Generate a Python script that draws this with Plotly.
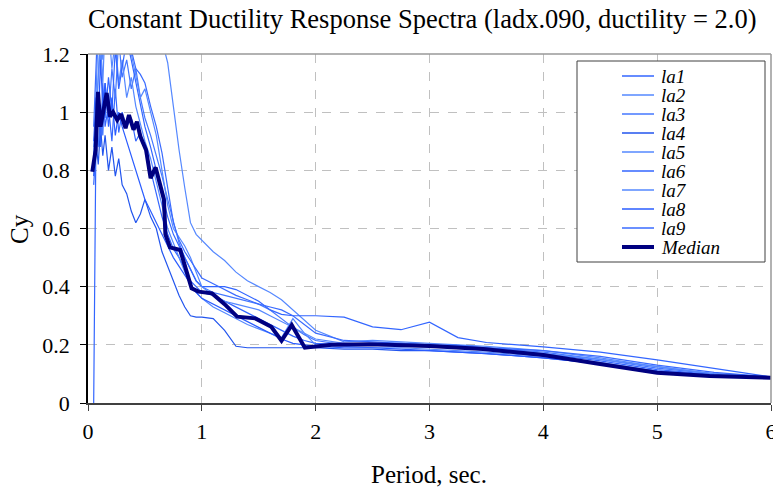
import plotly.graph_objects as go

# ---------------- data ----------------
PERIOD = [0.05, 0.07, 0.09, 0.11, 0.13, 0.15, 0.18, 0.21, 0.24, 0.27,
          0.30, 0.34, 0.38, 0.42, 0.46, 0.50, 0.55, 0.60, 0.65, 0.70,
          0.75, 0.80, 0.85, 0.90, 0.95, 1.00, 1.10, 1.20, 1.30, 1.40,
          1.50, 1.60, 1.70, 1.80, 1.90, 2.00, 2.25, 2.50, 2.75, 3.00,
          3.25, 3.50, 4.00, 4.50, 5.00, 5.50, 6.00]

la1 = [0.00, 0.92, 1.05, 0.88, 1.10, 0.95, 1.02, 0.90, 1.08, 0.93,
       1.00, 0.95, 0.98, 0.90, 0.93, 0.88, 0.80, 0.72, 0.64, 0.58,
       0.53, 0.50, 0.46, 0.42, 0.40, 0.38, 0.37, 0.35, 0.33, 0.31,
       0.29, 0.27, 0.25, 0.23, 0.215, 0.205, 0.20, 0.205, 0.205, 0.20,
       0.195, 0.19, 0.17, 0.145, 0.115, 0.098, 0.088]
la2 = [0.85, 1.00, 1.15, 1.25, 1.10, 1.30, 1.22, 1.35, 1.28, 1.40,
       1.32, 1.38, 1.45, 1.40, 1.42, 1.45, 1.40, 1.32, 1.25, 1.17,
       1.02, 0.87, 0.74, 0.62, 0.58, 0.56, 0.52, 0.49, 0.45, 0.42,
       0.40, 0.38, 0.355, 0.32, 0.285, 0.25, 0.21, 0.215, 0.21, 0.205,
       0.20, 0.195, 0.18, 0.155, 0.125, 0.10, 0.09]
la3 = [0.80, 0.95, 0.88, 1.02, 0.92, 1.10, 0.98, 1.15, 1.05, 1.25,
       1.12, 1.18, 1.08, 1.15, 1.05, 0.98, 0.92, 0.85, 0.78, 0.70,
       0.62, 0.55, 0.50, 0.46, 0.42, 0.40, 0.38, 0.37, 0.36, 0.35,
       0.34, 0.32, 0.29, 0.26, 0.235, 0.215, 0.20, 0.20, 0.205, 0.20,
       0.195, 0.19, 0.175, 0.15, 0.12, 0.10, 0.09]
la4 = [0.78, 0.90, 0.82, 0.95, 0.85, 0.92, 0.80, 0.88, 0.78, 0.84,
       0.75, 0.72, 0.66, 0.62, 0.65, 0.70, 0.64, 0.60, 0.52, 0.47,
       0.42, 0.37, 0.33, 0.30, 0.295, 0.295, 0.29, 0.25, 0.195, 0.19,
       0.19, 0.19, 0.19, 0.19, 0.19, 0.19, 0.185, 0.185, 0.18, 0.18,
       0.175, 0.17, 0.155, 0.135, 0.11, 0.095, 0.085]
la5 = [0.82, 1.10, 1.28, 1.15, 1.35, 1.20, 1.30, 1.15, 1.25, 1.10,
       1.18, 1.05, 1.12, 1.02, 0.96, 0.90, 0.84, 0.76, 0.68, 0.60,
       0.55, 0.50, 0.45, 0.41, 0.38, 0.36, 0.33, 0.31, 0.29, 0.27,
       0.255, 0.24, 0.225, 0.29, 0.24, 0.20, 0.195, 0.19, 0.19, 0.185,
       0.18, 0.175, 0.16, 0.14, 0.11, 0.095, 0.085]
la6 = [0.75, 0.88, 1.00, 0.92, 1.05, 0.98, 1.12, 1.00, 1.22, 1.08,
       1.15, 1.25, 1.18, 1.10, 1.02, 0.95, 0.88, 0.80, 0.72, 0.64,
       0.58, 0.54, 0.50, 0.46, 0.42, 0.40, 0.40, 0.40, 0.39, 0.37,
       0.35, 0.32, 0.305, 0.30, 0.30, 0.30, 0.295, 0.262, 0.252, 0.278,
       0.225, 0.208, 0.193, 0.175, 0.148, 0.118, 0.09]
la7 = [0.88, 0.98, 1.12, 1.30, 1.18, 1.40, 1.25, 1.32, 1.20, 1.28,
       1.22, 1.30, 1.20, 1.12, 1.05, 1.08, 1.00, 0.92, 0.80, 0.68,
       0.60, 0.57, 0.54, 0.50, 0.45, 0.40, 0.37, 0.35, 0.34, 0.33,
       0.32, 0.30, 0.28, 0.26, 0.24, 0.22, 0.205, 0.20, 0.20, 0.195,
       0.19, 0.185, 0.17, 0.15, 0.125, 0.10, 0.088]
la8 = [0.90, 1.05, 0.95, 1.18, 1.02, 1.10, 0.95, 1.05, 0.92, 1.00,
       0.95, 0.90, 0.85, 0.80, 0.75, 0.70, 0.66, 0.62, 0.58, 0.54,
       0.50, 0.47, 0.44, 0.41, 0.38, 0.36, 0.34, 0.32, 0.30, 0.28,
       0.26, 0.24, 0.22, 0.205, 0.20, 0.195, 0.19, 0.19, 0.185, 0.18,
       0.175, 0.17, 0.155, 0.135, 0.11, 0.095, 0.085]
la9 = [0.95, 1.20, 1.35, 1.25, 1.45, 1.30, 1.50, 1.40, 1.45, 1.30,
       1.38, 1.28, 1.22, 1.15, 1.13, 1.10, 1.02, 0.95, 0.86, 0.74,
       0.62, 0.56, 0.52, 0.49, 0.46, 0.43, 0.41, 0.39, 0.37, 0.355,
       0.34, 0.33, 0.32, 0.30, 0.27, 0.24, 0.215, 0.21, 0.205, 0.20,
       0.198, 0.19, 0.18, 0.16, 0.13, 0.105, 0.09]

MEDIAN_PERIOD = [0.038, 0.067, 0.088, 0.11, 0.164, 0.193, 0.22, 0.257, 0.29, 0.33,
                 0.36, 0.40, 0.43, 0.46, 0.51, 0.55, 0.594, 0.63, 0.667, 0.68,
                 0.72, 0.81, 0.866, 0.91, 0.97, 1.09, 1.2, 1.31, 1.47, 1.61,
                 1.70, 1.79, 1.905, 2.14, 2.47, 3.0, 3.47, 4.0, 4.47, 5.0,
                 5.46, 6.0]
MEDIAN = [0.795, 0.87, 1.07, 0.95, 1.066, 0.985, 1.0, 0.973, 0.993, 0.945,
          0.99, 0.94, 0.967, 0.916, 0.87, 0.773, 0.81, 0.761, 0.70, 0.58,
          0.535, 0.526, 0.447, 0.394, 0.383, 0.377, 0.34, 0.297, 0.291, 0.262,
          0.214, 0.268, 0.19, 0.2, 0.202, 0.196, 0.186, 0.165, 0.136, 0.104,
          0.093, 0.087]

RECORD_NAMES = ["la1", "la2", "la3", "la4", "la5", "la6", "la7", "la8", "la9"]
RECORDS = [la1, la2, la3, la4, la5, la6, la7, la8, la9]
MEDIAN_NAME = "Median"

X_TICKS = [0, 1, 2, 3, 4, 5, 6]
Y_TICKS = [0, 0.2, 0.4, 0.6, 0.8, 1.0, 1.2]
Y_TICK_LABELS = ["0", "0.2", "0.4", "0.6", "0.8", "1", "1.2"]

TITLE = "Constant Ductility Response Spectra (ladx.090, ductility = 2.0)"
X_TITLE = "Period, sec."
Y_TITLE = "Cy"

# ---------------- style ----------------
REC_COLORS = ["#3366FF", "#5588FF", "#4477FF", "#2255EE", "#5588FF",
              "#3366FF", "#5588FF", "#2A5CFF", "#3A6BFF"]
MED_COLOR = "#000080"
FONT = "Liberation Serif"

for r in RECORDS:
    assert len(r) == len(PERIOD)
assert len(MEDIAN) == len(MEDIAN_PERIOD)

fig = go.Figure()
for name, vals, col in zip(RECORD_NAMES, RECORDS, REC_COLORS):
    fig.add_trace(go.Scatter(x=PERIOD, y=vals, mode="lines", name=name,
                             line=dict(color=col, width=1.2), showlegend=False))
fig.add_trace(go.Scatter(x=MEDIAN_PERIOD, y=MEDIAN, mode="lines", name=MEDIAN_NAME,
                         line=dict(color=MED_COLOR, width=4), showlegend=False))

W, H = 773, 488
L, R, T, B = 88, 2, 54, 85
pw, ph = W - L - R, H - T - B


def px2paper_x(px):
    return (px - L) / pw


def px2paper_y(py):
    return (H - B - py) / ph


fig.update_layout(
    width=W, height=H,
    margin=dict(l=L, r=R, t=T, b=B, autoexpand=False),
    paper_bgcolor="white", plot_bgcolor="white",
    font=dict(family=FONT, color="black", size=22),
    title=dict(text=TITLE, x=px2paper_x(88), xref="paper", xanchor="left",
               y=1 - 19 / H, yanchor="middle",
               font=dict(family=FONT, size=26.5, color="black")),
    showlegend=False,
)

fig.update_xaxes(
    range=[0, 6], tickvals=X_TICKS, ticktext=[str(v) for v in X_TICKS],
    automargin=False,
    showgrid=True, gridcolor="#c0c0c0", griddash="dash", gridwidth=1,
    showline=True, linecolor="#404040", linewidth=2,
    ticks="outside", ticklen=6, tickcolor="#404040", tickwidth=1,
    ticklabelstandoff=2, ticklabeloverflow="allow", zeroline=False,
    tickfont=dict(family=FONT, size=22, color="black"),
)
fig.update_yaxes(
    range=[0, 1.2], tickvals=Y_TICKS, ticktext=Y_TICK_LABELS,
    automargin=False,
    showgrid=True, gridcolor="#c0c0c0", griddash="dash", gridwidth=1,
    showline=True, linecolor="black", linewidth=1.5,
    ticks="outside", ticklen=6, tickcolor="black", tickwidth=1,
    ticklabelstandoff=6, zeroline=False,
    tickfont=dict(family=FONT, size=22, color="black"),
)

# top and right borders of the plot area (gray)
fig.add_shape(type="line", xref="paper", yref="paper", x0=0, x1=1, y0=1, y1=1,
              line=dict(color="#999999", width=1.5))
fig.add_shape(type="line", xref="paper", yref="paper", x0=1, x1=1, y0=0, y1=1,
              line=dict(color="#999999", width=1.5))

# axis titles
fig.add_annotation(text=Y_TITLE, xref="paper", yref="paper",
                   x=px2paper_x(19), y=px2paper_y(229), textangle=-90,
                   showarrow=False, xanchor="center", yanchor="middle",
                   font=dict(family=FONT, size=25, color="black"))
fig.add_annotation(text=X_TITLE, xref="paper", yref="paper",
                   x=px2paper_x(429), y=px2paper_y(474),
                   showarrow=False, xanchor="center", yanchor="middle",
                   font=dict(family=FONT, size=25, color="black"))

# legend box (drawn manually to match compact row spacing)
fig.add_shape(type="rect", xref="paper", yref="paper",
              x0=px2paper_x(577), x1=px2paper_x(765),
              y0=px2paper_y(262), y1=px2paper_y(61),
              line=dict(color="#404040", width=1), fillcolor="white", layer="above")
names = RECORD_NAMES + [MEDIAN_NAME]
cols = REC_COLORS + [MED_COLOR]
widths = [1.5] * len(RECORD_NAMES) + [4]
for i, (nm, c, w) in enumerate(zip(names, cols, widths)):
    yy = 76 + i * 19.0
    fig.add_shape(type="line", xref="paper", yref="paper",
                  x0=px2paper_x(622), x1=px2paper_x(654),
                  y0=px2paper_y(yy), y1=px2paper_y(yy),
                  line=dict(color=c, width=w), layer="above")
    fig.add_annotation(text="<i>" + nm + "</i>", xref="paper", yref="paper",
                       x=px2paper_x(659), y=px2paper_y(yy), showarrow=False,
                       xanchor="left", yanchor="middle",
                       font=dict(family=FONT, size=19, color="black"))

fig.write_html("out.html")
